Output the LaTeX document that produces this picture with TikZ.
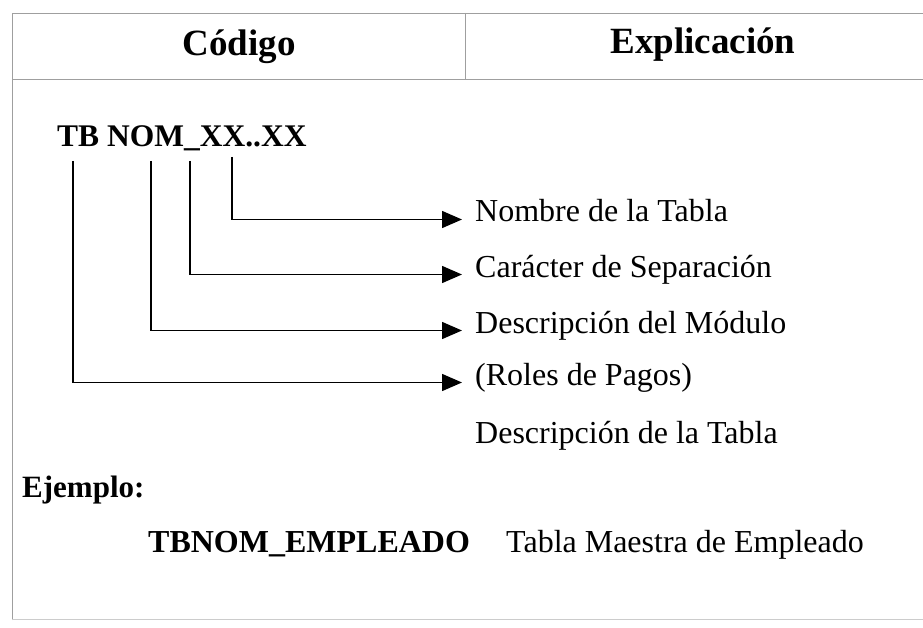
\documentclass[tikz,border=0pt]{standalone}
\usepackage{fontspec}
\setmainfont{Liberation Serif}
\usetikzlibrary{arrows.meta}

\begin{document}
\begin{tikzpicture}[x=1pt,y=-1pt,
        frame/.style={draw=gray!75,line width=0.9pt},
        head/.style={font=\fontsize{37}{44}\selectfont\bfseries,anchor=base,inner sep=0pt},
        bold/.style={font=\fontsize{32}{38}\selectfont\bfseries,anchor=base west,inner sep=0pt},
        desc/.style={font=\fontsize{32}{38}\selectfont,anchor=base west,inner xsep=13pt,inner ysep=0pt,
                     text height=0.75em,text depth=0.25em},
        link/.style={line width=1.5pt,-{Triangle[length=20pt,width=17pt]}}]
        \useasboundingbox (0,0) rectangle (923,628);

        % tabla
        \draw[frame] (12,620) -- (12,13) -- (923,13);
        \draw[frame] (12,79) -- (923,79);
        \draw[frame] (465,13) -- (465,79);
        \draw[draw=gray!40,line width=0.6pt] (12,619) -- (923,619);

        \node[head] (cod) at (239,56) {Código};
        \node[head] (exp) at (703,54) {Explicación};

        \node[bold,font=\fontsize{31.5}{38}\selectfont\bfseries] (code) at (57,147) {TB NOM\_XX..XX};

        \coordinate (c1) at (73,161);
        \coordinate (c2) at (151,161);
        \coordinate (c3) at (190,161);
        \coordinate (c4) at (232,157);

        \node[desc] (nombre) at (462,222) {Nombre de la Tabla};
        \node[desc] (caracter) at (462,277) {Carácter de Separación};
        \node[desc] (modulo) at (462,333) {Descripción del Módulo};
        \node[desc] (roles) at (462,385) {(Roles de Pagos)};
        \node[desc] (tabla) at (462,443) {Descripción de la Tabla};

        \draw[link] (c4) |- (nombre);
        \draw[link] (c3) |- (caracter);
        \draw[link] (c2) |- (modulo);
        \draw[link] (c1) |- (roles);

        \node[bold,font=\fontsize{31}{38}\selectfont\bfseries] (ejemplo) at (22,497) {Ejemplo:};
        \node[bold] (empleado) at (148,552) {TBNOM\_EMPLEADO};
        \node[desc,inner xsep=0pt] (maestra) at (506,552) {Tabla Maestra de Empleado};
    \end{tikzpicture}
\end{document}
